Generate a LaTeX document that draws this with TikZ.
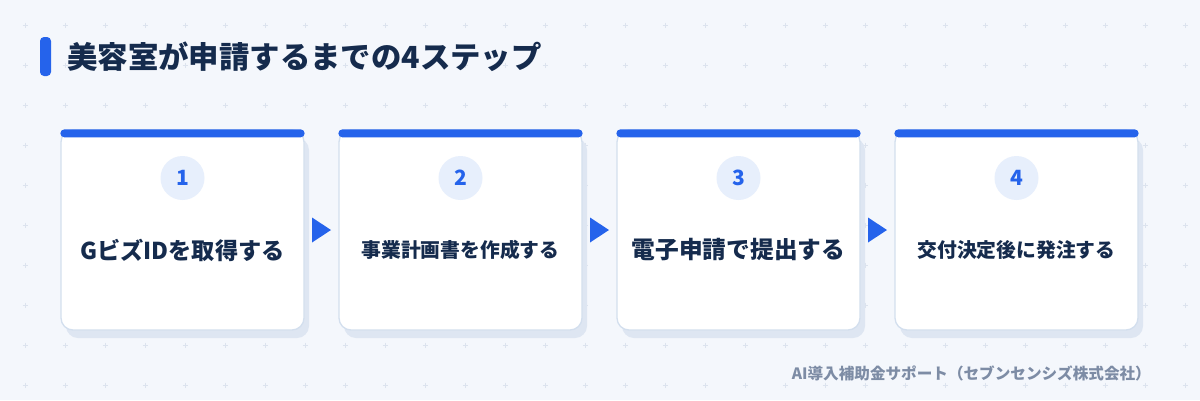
\documentclass[tikz,border=0pt]{standalone}
\usepackage{fontspec}
\setmainfont{Noto Sans CJK JP}
\usetikzlibrary{calc}
\definecolor{bgc}{HTML}{F4F7FC}
\definecolor{plusc}{HTML}{DCE3EE}
\definecolor{accent}{HTML}{2563EB}
\definecolor{ink}{HTML}{152B4D}
\definecolor{cardline}{HTML}{D3DFEE}
\definecolor{shadowc}{HTML}{DEE6F2}
\definecolor{circc}{HTML}{E7EFFC}
\definecolor{footc}{HTML}{7D8CA5}
\tikzset{
  card/.style={draw=cardline, line width=1.3pt, fill=white, rounded corners=12pt,
    minimum width=243pt, minimum height=200pt, inner sep=0pt},
  numcirc/.style={circle, fill=circc, minimum size=44pt, inner sep=0pt,
    text=accent, font=\bfseries\fontsize{21}{24}\selectfont},
  big/.style={text=ink, font=\bfseries\fontsize{23.2}{28}\selectfont},
  small/.style={text=ink, font=\bfseries\fontsize{19.8}{24}\selectfont},
}
\begin{document}
\begin{tikzpicture}[x=1pt,y=-1pt]
\useasboundingbox (0,0) rectangle (1200,400);
\fill[bgc] (0,0) rectangle (1200,400);
\foreach \i in {0,...,29}{
  \foreach \j in {0,...,9}{
    \draw[plusc, line width=0.8pt] ({25+40*\i-2.5},{25+40*\j}) -- ++(5,0)
      ({25+40*\i},{25+40*\j-2.5}) -- ++(0,5);
  }
}
% title
\fill[accent, rounded corners=4pt] (40,37) rectangle (51,76);
\node[anchor=west, inner sep=0pt, text=ink, font=\bfseries\fontsize{30.4}{36}\selectfont] (title) at (67,57) {美容室が申請するまでの4ステップ};
% cards
\foreach \n/\x in {1/182.5,2/460.5,3/738.5,4/1016.5}{
  \fill[shadowc, rounded corners=12pt] ({\x-121.5+5},{138}) rectangle ({\x+121.5+5},{338});
  \node[card] (c\n) at (\x,230) {};
  \fill[accent, rounded corners=4pt] (c\n.north west) rectangle ($(c\n.north east)+(0,8)$);
  \node[numcirc] (n\n) at (\x,178) {\n};
}
\node[big] (t1) at (182.5,250) {GビズIDを取得する};
\node[small] (t2) at (460.5,250) {事業計画書を作成する};
\node[big, font=\bfseries\fontsize{23.7}{28}\selectfont] (t3) at (738.5,250) {電子申請で提出する};
\node[small] (t4) at (1016.5,250) {交付決定後に発注する};
% arrows
\foreach \a/\b in {1/2,2/3,3/4}{
  \coordinate (m\a) at ($(c\a.east)!0.5!(c\b.west)$);
  \fill[accent] ($(m\a)+(-9.5,-12.5)$) -- ($(m\a)+(9.5,0)$) -- ($(m\a)+(-9.5,12.5)$) -- cycle;
}
% footer
\node[anchor=east, inner sep=0pt, text=footc, font=\bfseries\fontsize{15.6}{18}\selectfont] (foot) at (1151,373) {AI導入補助金サポート（セブンセンシズ株式会社）};
\end{tikzpicture}
\end{document}
